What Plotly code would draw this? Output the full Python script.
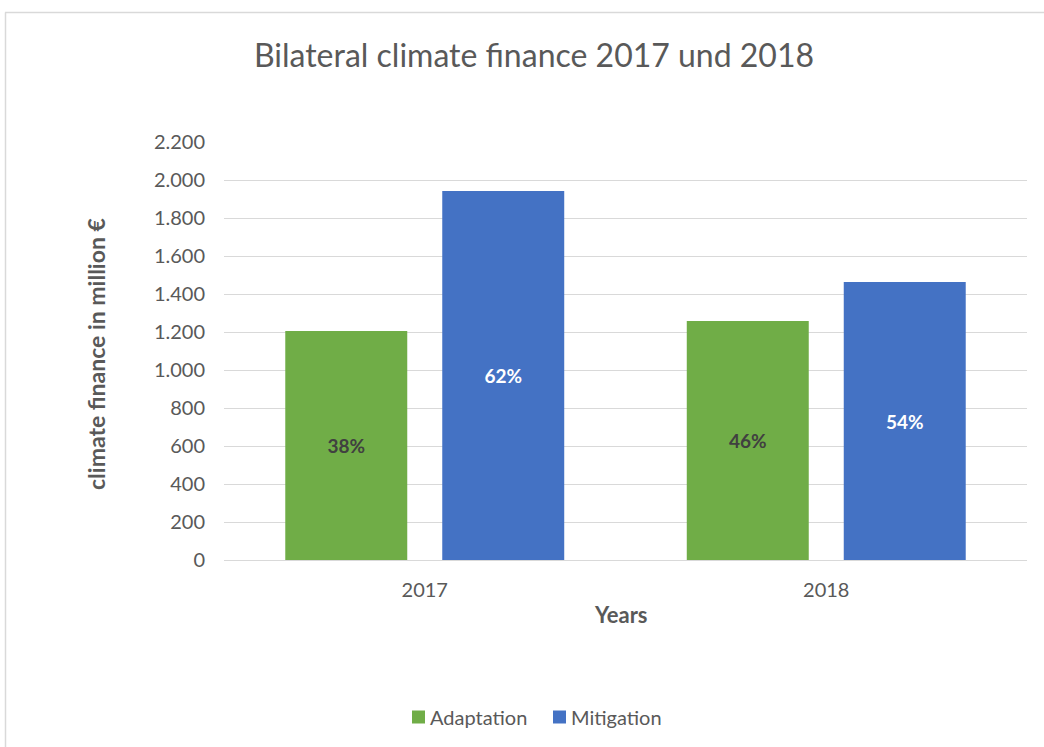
import plotly.graph_objects as go

years = ["2017", "2018"]
adaptation = [1205, 1258]
mitigation = [1942, 1463]
series_names = ["Adaptation", "Mitigation"]
series_colors = ["#70AD47", "#4472C4"]
y_ticks = [0, 200, 400, 600, 800, 1000, 1200, 1400, 1600, 1800, 2000, 2200]

totals = [a + m for a, m in zip(adaptation, mitigation)]
adapt_pct = [f"{round(100 * a / t)}%" for a, t in zip(adaptation, totals)]
mitig_pct = [f"{round(100 * m / t)}%" for m, t in zip(mitigation, totals)]

FONT = "Lato"
GRAY = "#595959"

fig = go.Figure()
fig.add_trace(go.Bar(
    x=years, y=adaptation, name=series_names[0],
    marker=dict(color=series_colors[0], line=dict(width=0)),
    text=adapt_pct, textposition="inside", insidetextanchor="middle",
    textfont=dict(family=FONT, size=19, color="#404040", weight="bold"),
    hoverinfo="x+y", showlegend=False,
))
fig.add_trace(go.Bar(
    x=years, y=mitigation, name=series_names[1],
    marker=dict(color=series_colors[1], line=dict(width=0)),
    text=mitig_pct, textposition="inside", insidetextanchor="middle",
    textfont=dict(family=FONT, size=19, color="white", weight="bold"),
    hoverinfo="x+y", showlegend=False,
))

L, R, T, B = 224, 17, 142, 187
W, H = 1044, 747
pw, ph = W - L - R, H - T - B

def px_x(x):
    return (x - L) / pw

def px_y(y):
    return (H - B - y) / ph

# custom legend (square swatch close to text, as in the reference)
legend_x = [412, 553]
legend_y = 717
shapes = [
    dict(type="line", xref="paper", yref="paper",
         x0=px_x(5), x1=px_x(1044), y0=px_y(12.5), y1=px_y(12.5),
         line=dict(color="#d9d9d9", width=1.5)),
    dict(type="line", xref="paper", yref="paper",
         x0=px_x(5.5), x1=px_x(5.5), y0=px_y(12.5), y1=px_y(747),
         line=dict(color="#d9d9d9", width=1.5)),
]
annotations = [
    dict(text="climate finance in million €", textangle=-90,
         x=px_x(96), y=px_y(354), xref="paper", yref="paper",
         showarrow=False, xanchor="center", yanchor="middle",
         font=dict(family=FONT, size=23, color=GRAY, weight="bold")),
    dict(text="Years",
         x=px_x(621), y=px_y(614), xref="paper", yref="paper",
         showarrow=False, xanchor="center", yanchor="middle",
         font=dict(family=FONT, size=22, color=GRAY, weight="bold")),
]
for name, color, lx in zip(series_names, series_colors, legend_x):
    shapes.append(dict(type="rect", xref="paper", yref="paper",
                       x0=px_x(lx), x1=px_x(lx + 13),
                       y0=px_y(legend_y + 6.5), y1=px_y(legend_y - 6.5),
                       fillcolor=color, line=dict(width=0)))
    annotations.append(dict(text=name, x=px_x(lx + 16), y=px_y(legend_y),
                            xref="paper", yref="paper", showarrow=False,
                            xanchor="left", yanchor="middle",
                            font=dict(family=FONT, size=20, color=GRAY)))

fig.update_layout(
    width=W, height=H,
    margin=dict(l=L, r=R, t=T, b=B, autoexpand=False),
    paper_bgcolor="white", plot_bgcolor="white",
    separators=",.",
    barmode="group", bargap=0.218, bargroupgap=0.223,
    font=dict(family=FONT, color=GRAY),
    showlegend=False,
    title=dict(
        text="Bilateral climate finance 2017 und 2018",
        x=534 / W, xref="container", xanchor="center",
        y=1 - 56 / H, yref="container", yanchor="middle",
        font=dict(family=FONT, size=32, color=GRAY),
    ),
    xaxis=dict(
        showgrid=False, showline=False, zeroline=False,
        tickfont=dict(family=FONT, size=20, color=GRAY),
        ticks="", ticklabelstandoff=16,
    ),
    yaxis=dict(
        range=[0, 2200], tickvals=y_ticks, tickformat=",d",
        showgrid=True, gridcolor="#d9d9d9", gridwidth=1,
        zeroline=True, zerolinecolor="#d9d9d9", zerolinewidth=1,
        showline=False, ticks="",
        tickfont=dict(family=FONT, size=20, color=GRAY),
        ticklabelstandoff=18,
    ),
    annotations=annotations,
    shapes=shapes,
)

fig.write_html("out.html")
